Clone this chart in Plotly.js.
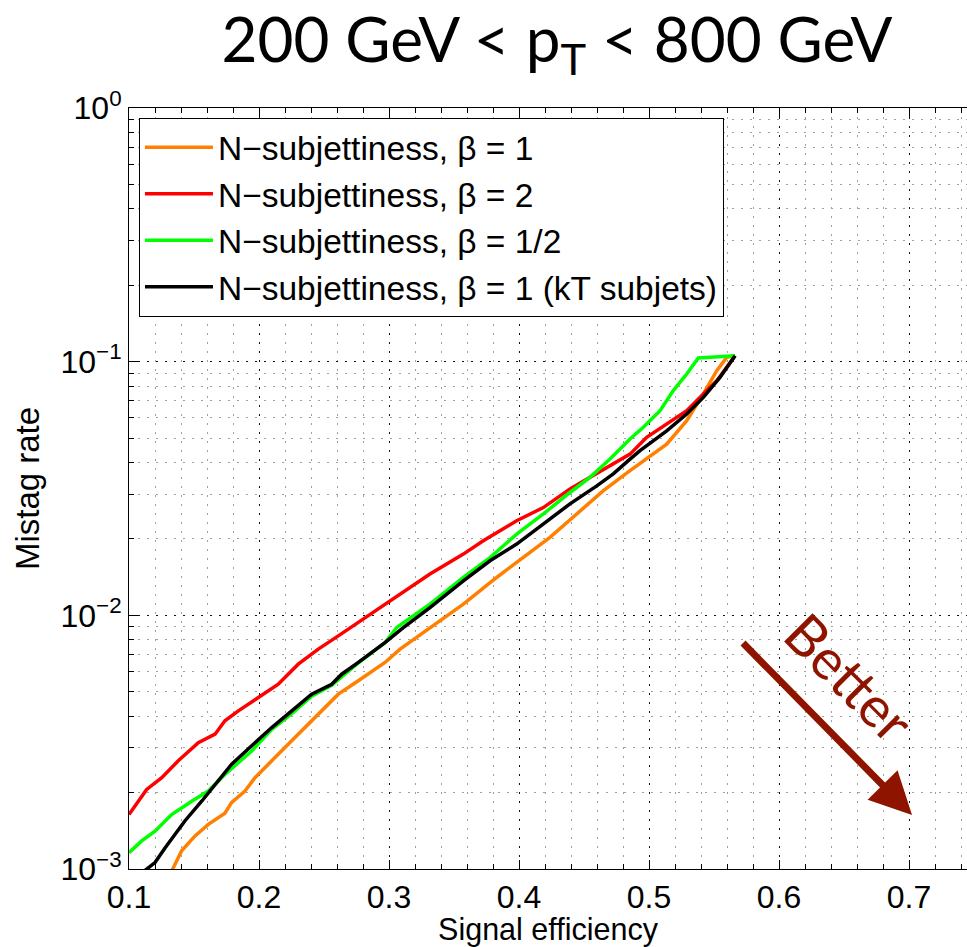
<!DOCTYPE html>
<html>
<head>
<meta charset="utf-8">
<script src="https://cdn.plot.ly/plotly-3.0.1.min.js"></script>
<style>html,body{margin:0;padding:0;background:#fff;overflow:hidden}</style>
</head>
<body>
<div id="chart" style="width:967px;height:947px"></div>
<script>
// ---- data ----
const seriesNames = [
  "N\u2212subjettiness, \u03b2 = 1",
  "N\u2212subjettiness, \u03b2 = 2",
  "N\u2212subjettiness, \u03b2 = 1/2",
  "N\u2212subjettiness, \u03b2 = 1 (kT subjets)"
];
const seriesColors = ["#ff8000", "#ff0000", "#00ff00", "#000000"];

const beta1X = [0.1328,0.1405,0.1508,0.1610,0.1738,0.1790,0.1892,0.1969,0.2123,0.2302,0.2456,0.2610,0.2764,0.2969,0.3085,0.3315,0.3572,0.3828,0.4033,0.4238,0.4444,0.4649,0.4854,0.5000,0.5136,0.5290,0.5418,0.5521,0.5598,0.5662];
const beta1Y = [0.00098,0.00118,0.00135,0.00150,0.00166,0.00183,0.00203,0.00229,0.00275,0.00340,0.00408,0.00489,0.00552,0.00652,0.00736,0.00895,0.01107,0.0141,0.0169,0.0203,0.0251,0.0310,0.0372,0.0420,0.0473,0.0585,0.0746,0.0922,0.1040,0.1056];

const beta2X = [0.1,0.1136,0.1252,0.1379,0.1533,0.1662,0.1738,0.1841,0.1995,0.2148,0.2302,0.2456,0.2610,0.2764,0.2969,0.3008,0.3315,0.3572,0.3725,0.3982,0.4187,0.4392,0.4546,0.4700,0.4854,0.4982,0.5136,0.5290,0.5418,0.5521,0.5662];
const beta2Y = [0.00164,0.00206,0.00229,0.00267,0.00315,0.00340,0.00384,0.00420,0.00474,0.00535,0.00642,0.00736,0.00830,0.00937,0.01107,0.0114,0.01454,0.01743,0.01967,0.0236,0.0266,0.0315,0.0350,0.0389,0.0432,0.0503,0.0568,0.0641,0.0746,0.0841,0.1056];

const betaHalfX = [0.1,0.1098,0.1200,0.1328,0.1482,0.1610,0.1738,0.1944,0.2098,0.2252,0.2405,0.2559,0.2764,0.2969,0.3059,0.3315,0.3572,0.3777,0.3982,0.4187,0.4392,0.4546,0.4700,0.4854,0.4956,0.5085,0.5187,0.5290,0.5379,0.5662];
const betaHalfY = [0.00116,0.00129,0.00141,0.00164,0.00185,0.00203,0.00236,0.00292,0.00355,0.00410,0.00480,0.00530,0.00650,0.00780,0.00895,0.01107,0.0141,0.0169,0.0209,0.0251,0.0305,0.0350,0.0413,0.0496,0.0551,0.0641,0.0769,0.0894,0.1034,0.1056];

const ktX = [0.1115,0.1200,0.1277,0.1354,0.1431,0.1559,0.1662,0.1790,0.1944,0.2098,0.2252,0.2405,0.2559,0.2636,0.2764,0.2867,0.2969,0.3110,0.3315,0.3572,0.3777,0.3982,0.4187,0.4392,0.4598,0.4725,0.4854,0.4931,0.5136,0.5290,0.5418,0.5546,0.5662];
const ktY = [0.00098,0.00106,0.00121,0.00137,0.00155,0.00185,0.00216,0.00259,0.00306,0.00361,0.00420,0.00489,0.00535,0.00586,0.00652,0.00713,0.00781,0.00895,0.01073,0.01368,0.01641,0.0191,0.0229,0.0275,0.0324,0.0361,0.0413,0.0446,0.0534,0.0622,0.0723,0.0867,0.1056];

const xTickVals = [0.1,0.2,0.3,0.4,0.5,0.6,0.7];
const xTickText = ["0.1","0.2","0.3","0.4","0.5","0.6","0.7"];
const yTickVals = [0.001,0.01,0.1,1];
const yTickText = ["10<sup>\u22123</sup>","10<sup>\u22122</sup>","10<sup>\u22121</sup>","10<sup>0</sup>"];

const yMinorVals = [];
for (let e = -3; e < 0; e++) for (let m = 2; m <= 9; m++) yMinorVals.push(m * Math.pow(10, e));

const xs = [beta1X, beta2X, betaHalfX, ktX];
const ys = [beta1Y, beta2Y, betaHalfY, ktY];

const traces = seriesNames.map((n, i) => ({
  x: xs[i], y: ys[i], name: n, type: "scatter", mode: "lines",
  line: {color: seriesColors[i], width: 3.5}
}));

const FONT = "Liberation Sans, Arial, Helvetica, sans-serif";
const majorDots = "2px,7px";
const minorDots = "2px,7px";
const darkRed = "#8e1400";

const layout = {
  width: 967, height: 947,
  margin: {l: 129, r: 0, t: 108, b: 78},
  paper_bgcolor: "#fff", plot_bgcolor: "#fff",
  font: {family: FONT, size: 32, color: "#000"},
  title: {
    text: "200 GeV &lt; p<sub>T</sub> &lt; 800 GeV",
    font: {family: "Lato, Open Sans, sans-serif", size: 62, color: "#000"},
    xref: "container", yref: "container", x: 0.576, y: 0.957,
    xanchor: "center", yanchor: "middle"
  },
  xaxis: {
    range: [0.1, 0.7446], tickmode: "array", tickvals: xTickVals, ticktext: xTickText,
    ticks: "inside", ticklen: 9, tickwidth: 1, tickcolor: "#000",
    showline: true, linecolor: "#000", linewidth: 1, mirror: "ticks",
    showgrid: true, gridcolor: "#111", griddash: majorDots, gridwidth: 1,
    zeroline: false,
    tickfont: {family: FONT, size: 32, color: "#000"},
    title: {text: "Signal efficiency", font: {family: FONT, size: 30.5, color: "#000"}, standoff: 12},
    minor: {dtick: 0.02, tick0: 0.1, ticks: "inside", ticklen: 5, tickcolor: "#000",
            showgrid: true, gridcolor: "#a0a0a0", griddash: minorDots, gridwidth: 1}
  },
  yaxis: {
    type: "log", range: [-3, 0], tickmode: "array", tickvals: yTickVals, ticktext: yTickText,
    ticks: "inside", ticklen: 9, tickwidth: 1, tickcolor: "#000",
    showline: true, linecolor: "#000", linewidth: 1, mirror: false,
    showgrid: true, gridcolor: "#111", griddash: majorDots, gridwidth: 1,
    zeroline: false,
    tickfont: {family: FONT, size: 32, color: "#000"},
    title: {text: "Mistag rate", font: {family: FONT, size: 33, color: "#000"}, standoff: 10},
    minor: {tickmode: "array", tickvals: yMinorVals, ticks: "inside", ticklen: 5, tickcolor: "#000",
            showgrid: true, gridcolor: "#a0a0a0", griddash: minorDots, gridwidth: 1}
  },
  showlegend: true,
  legend: {
    x: 0.0119, y: 0.987, xanchor: "left", yanchor: "top",
    bgcolor: "#fff", bordercolor: "#000", borderwidth: 1,
    font: {family: FONT, size: 33.5, color: "#000"},
    itemwidth: 68, tracegroupgap: 0
  },
  annotations: [
    {xref: "paper", yref: "paper", x: 0.9344, y: 0.071, ax: -175, ay: -178,
     text: " ", showarrow: true, arrowhead: 2, arrowsize: 1.2, arrowwidth: 7, arrowcolor: darkRed},
    {xref: "paper", yref: "paper", x: 0.8592, y: 0.2523, text: "Better", showarrow: false,
     textangle: 45, font: {family: "Lato, Open Sans, sans-serif", size: 56, color: darkRed},
     xanchor: "center", yanchor: "middle"}
  ]
};

Plotly.newPlot("chart", traces, layout, {displayModeBar: false, staticPlot: true});
</script>
</body>
</html>
